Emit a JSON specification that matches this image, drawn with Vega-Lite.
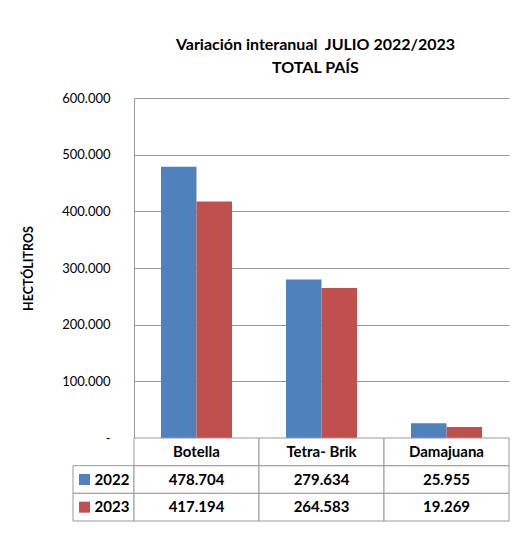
{
  "$schema": "https://vega.github.io/schema/vega-lite/v6.json",
  "padding": {"left": 22, "top": 37, "right": 5, "bottom": 5},
  "config": {"view": {"stroke": null}, "font": "Lato", "concat": {"spacing": 0}},
  "datasets": {
    "d": [
      {"cat": "Botella", "year": "2022", "value": 478704},
      {"cat": "Botella", "year": "2023", "value": 417194},
      {"cat": "Tetra- Brik", "year": "2022", "value": 279634},
      {"cat": "Tetra- Brik", "year": "2023", "value": 264583},
      {"cat": "Damajuana", "year": "2022", "value": 25955},
      {"cat": "Damajuana", "year": "2023", "value": 19269}
    ]
  },
  "bounds": "flush",
  "spacing": 0,
  "columns": 2,
  "concat": [
    {"width": 61, "height": 340, "data": {"values": []}, "mark": "text", "encoding": {}},
    {
      "width": 375,
      "height": 340,
      "data": {"name": "d"},
      "title": {
        "text": ["Variación interanual\u00a0 JULIO 2022/2023", "TOTAL PAÍS"],
        "fontSize": 16,
        "fontWeight": "bold",
        "lineHeight": 23,
        "offset": 16,
        "anchor": "middle",
        "dx": -6,
        "color": "#000000",
        "font": "Lato"
      },
      "mark": {"type": "bar"},
      "encoding": {
        "x": {
          "field": "cat",
          "type": "nominal",
          "sort": ["Botella", "Tetra- Brik", "Damajuana"],
          "scale": {"paddingInner": 0.432, "paddingOuter": 0.216},
          "axis": null
        },
        "xOffset": {"field": "year", "type": "nominal", "scale": {"paddingInner": 0, "paddingOuter": 0}},
        "y": {
          "field": "value",
          "type": "quantitative",
          "scale": {"domain": [0, 600000], "nice": false},
          "axis": {
            "values": [0, 100000, 200000, 300000, 400000, 500000, 600000],
            "labelExpr": "datum.value == 0 ? '-\u00a0\u00a0' : format(datum.value / 1000, '.3f')",
            "title": "HECTÓLITROS",
            "titleFontSize": 12.5,
            "titleFontWeight": "bold",
            "titleColor": "#000000",
            "titlePadding": 26,
            "labelFontSize": 13,
            "labelColor": "#000000",
            "labelPadding": 24,
            "ticks": false,
            "domainColor": "#999999",
            "gridColor": "#999999",
            "gridOpacity": 1
          }
        },
        "color": {
          "field": "year",
          "type": "nominal",
          "scale": {"domain": ["2022", "2023"], "range": ["#4F81BD", "#C0504D"]},
          "legend": null
        }
      }
    },
    {
      "width": 61,
      "height": 83,
      "data": {"name": "d"},
      "transform": [{"filter": "datum.cat == 'Botella'"}],
      "layer": [
        {
          "mark": {"type": "rect", "fill": "white", "stroke": "#999999", "strokeWidth": 1},
          "encoding": {
            "y": {
              "field": "year",
              "type": "nominal",
              "scale": {"domain": ["header", "2022", "2023"], "paddingInner": 0, "paddingOuter": 0},
              "axis": null
            }
          }
        },
        {
          "mark": {"type": "point", "shape": "square", "size": 121, "filled": true, "opacity": 1, "xOffset": -19},
          "encoding": {
            "y": {"field": "year", "type": "nominal"},
            "color": {
              "field": "year",
              "type": "nominal",
              "scale": {"domain": ["2022", "2023"], "range": ["#4F81BD", "#C0504D"]},
              "legend": null
            }
          }
        },
        {
          "mark": {"type": "text", "fontWeight": "bold", "fontSize": 15, "dx": 8.5, "color": "#000000"},
          "encoding": {
            "y": {"field": "year", "type": "nominal"},
            "text": {"field": "year"}
          }
        }
      ]
    },
    {
      "width": 375,
      "height": 83,
      "data": {"name": "d"},
      "transform": [{"calculate": "format(datum.value / 1000, '.3f')", "as": "txt"}],
      "layer": [
        {
          "mark": {"type": "rect", "fill": "white", "stroke": "#999999", "strokeWidth": 1},
          "encoding": {
            "x": {
              "field": "cat",
              "type": "nominal",
              "sort": ["Botella", "Tetra- Brik", "Damajuana"],
              "scale": {"paddingInner": 0, "paddingOuter": 0},
              "axis": null
            },
            "y": {
              "field": "year",
              "type": "nominal",
              "scale": {"domain": ["header", "2022", "2023"], "paddingInner": 0, "paddingOuter": 0},
              "axis": null
            }
          }
        },
        {
          "transform": [{"filter": "datum.year == '2022'"}],
          "mark": {"type": "rect", "fill": "white", "stroke": "#999999", "strokeWidth": 1},
          "encoding": {
            "x": {"field": "cat", "type": "nominal", "sort": ["Botella", "Tetra- Brik", "Damajuana"]},
            "y": {"datum": "header"}
          }
        },
        {
          "mark": {"type": "text", "fontWeight": "bold", "fontSize": 15, "color": "#000000"},
          "encoding": {
            "x": {"field": "cat", "type": "nominal", "sort": ["Botella", "Tetra- Brik", "Damajuana"]},
            "y": {"field": "year", "type": "nominal"},
            "text": {"field": "txt"}
          }
        },
        {
          "transform": [{"filter": "datum.year == '2022'"}],
          "mark": {"type": "text", "fontWeight": "bold", "fontSize": 15, "color": "#000000"},
          "encoding": {
            "x": {"field": "cat", "type": "nominal", "sort": ["Botella", "Tetra- Brik", "Damajuana"]},
            "y": {"datum": "header"},
            "text": {"field": "cat"}
          }
        }
      ]
    }
  ]
}
